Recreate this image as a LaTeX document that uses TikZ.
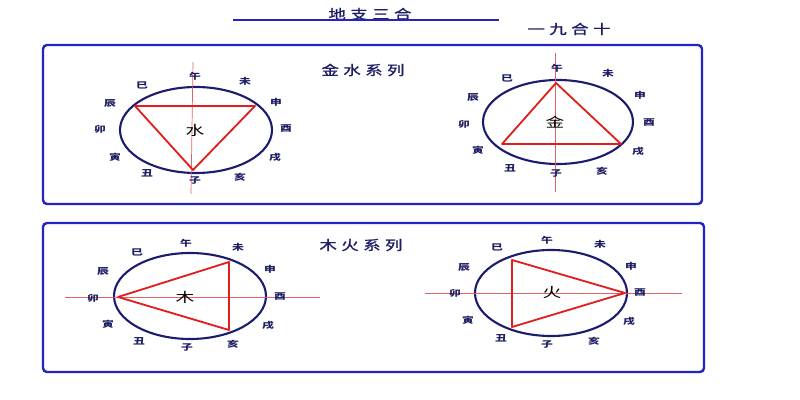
\documentclass[tikz,border=0pt]{standalone}
\usepackage{fontspec}
\newfontfamily\cjk{Noto Sans CJK SC}
\newfontfamily\cjkwide[LetterSpace=26,FakeBold=1.2]{Noto Sans CJK SC}
\definecolor{boxblue}{RGB}{36,36,196}
\definecolor{ringblue}{RGB}{28,28,110}
\definecolor{trired}{RGB}{225,30,30}
\definecolor{axisred}{RGB}{225,100,100}
\definecolor{ink}{RGB}{30,30,100}

\begin{document}
\begin{tikzpicture}[x=0.5mm,y=-0.5mm,
    frame/.style={draw=boxblue,line width=3.4pt,rounded corners=2mm},
    ring/.style={draw=ringblue,line width=3pt},
    tri/.style={draw=trired,line width=2.6pt,line join=round},
    axisline/.style={draw=axisred,line width=1pt},
    br/.style={font=\cjk\bfseries\fontsize{12}{12}\selectfont,text=ink,xscale=1.4,inner sep=0pt},
    elem/.style={font=\cjk\fontsize{19}{19}\selectfont,xscale=1.4,inner sep=0pt},
    head/.style={font=\cjkwide\fontsize{19}{19}\selectfont,text=ink,xscale=1.3,inner sep=0pt}]
    \useasboundingbox (0,0) rectangle (800,400);

    % title
    \node[head] (T) at (370,14) {地支三合};
    \coordinate (TL) at (233,20);
    \coordinate (TR) at (499,20);
    \path[draw=boxblue,line width=2pt] (TL) -- (TR);
    \node[head] (N) at (569,29) {一九合十};

    % frames
    \draw[frame] (43,45) rectangle (702,204);
    \draw[frame] (43,223) rectangle (704,372);
    \node[head] (JS) at (363,70) {金水系列};
    \node[head] (MH) at (361,245) {木火系列};

    % water
    \coordinate (S) at (196,130);
    \draw[ring] (S) ellipse [x radius=76,y radius=43];
    \coordinate (Su) at (193,62);
    \coordinate (Sd) at (191,194);
    \path[axisline] (Su) -- (Sd);
    \coordinate (Sa) at (135,106);
    \coordinate (Sb) at (255,106);
    \coordinate (Sc) at (193,170);
    \draw[tri] (Sa) -- (Sb) -- (Sc) -- cycle;
    \node[elem] (SX) at (195,130) {水};
    \node[br] (S0) at (195,76) {午};
    \node[br] (S1) at (245,81) {未};
    \node[br] (S2) at (276,102) {申};
    \node[br] (S3) at (286,129) {酉};
    \node[br] (S4) at (275,157) {戌};
    \node[br] (S5) at (240,177) {亥};
    \node[br] (S6) at (195,180) {子};
    \node[br] (S7) at (147,173) {丑};
    \node[br] (S8) at (115,157) {寅};
    \node[br] (S9) at (100,129) {卯};
    \node[br] (S10) at (110,103) {辰};
    \node[br] (S11) at (142,85) {巳};

    % metal
    \coordinate (J) at (558,122);
    \draw[ring] (J) ellipse [x radius=75,y radius=42];
    \coordinate (Ju) at (555,53);
    \coordinate (Jd) at (555,192);
    \path[axisline] (Ju) -- (Jd);
    \coordinate (Ja) at (556,83);
    \coordinate (Jb) at (621,144);
    \coordinate (Jc) at (502,144);
    \draw[tri] (Ja) -- (Jb) -- (Jc) -- cycle;
    \node[elem] (JX) at (555,122) {金};
    \node[br] (J0) at (557,68) {午};
    \node[br] (J1) at (608,73) {未};
    \node[br] (J2) at (640,95) {申};
    \node[br] (J3) at (649,123) {酉};
    \node[br] (J4) at (638,151) {戌};
    \node[br] (J5) at (602,171) {亥};
    \node[br] (J6) at (556,173) {子};
    \node[br] (J7) at (510,168) {丑};
    \node[br] (J8) at (478,150) {寅};
    \node[br] (J9) at (464,124) {卯};
    \node[br] (J10) at (473,97) {辰};
    \node[br] (J11) at (507,78) {巳};

    % wood
    \coordinate (M) at (190,296);
    \draw[ring] (M) ellipse [x radius=76,y radius=43];
    \coordinate (Ml) at (65,297);
    \coordinate (Mr) at (320,297);
    \path[axisline] (Ml) -- (Mr);
    \coordinate (Ma) at (118,297);
    \coordinate (Mb) at (229,262);
    \coordinate (Mc) at (229,330);
    \draw[tri] (Ma) -- (Mb) -- (Mc) -- cycle;
    \node[elem] (MX) at (185,297) {木};
    \node[br] (M0) at (186,243) {午};
    \node[br] (M1) at (238,247) {未};
    \node[br] (M2) at (270,269) {申};
    \node[br] (M3) at (280,297) {酉};
    \node[br] (M4) at (268,325) {戌};
    \node[br] (M5) at (233,344) {亥};
    \node[br] (M6) at (187,347) {子};
    \node[br] (M7) at (139,341) {丑};
    \node[br] (M8) at (108,324) {寅};
    \node[br] (M9) at (93,298) {卯};
    \node[br] (M10) at (103,271) {辰};
    \node[br] (M11) at (137,252) {巳};

    % fire
    \coordinate (H) at (551,293);
    \draw[ring] (H) ellipse [x radius=76,y radius=43];
    \coordinate (Hl) at (425,293);
    \coordinate (Hr) at (682,293);
    \path[axisline] (Hl) -- (Hr);
    \coordinate (Ha) at (512,260);
    \coordinate (Hb) at (625,293);
    \coordinate (Hc) at (512,327);
    \draw[tri] (Ha) -- (Hb) -- (Hc) -- cycle;
    \node[elem] (HX) at (552,293) {火};
    \node[br] (H0) at (547,240) {午};
    \node[br] (H1) at (600,244) {未};
    \node[br] (H2) at (631,266) {申};
    \node[br] (H3) at (640,293) {酉};
    \node[br] (H4) at (629,321) {戌};
    \node[br] (H5) at (594,341) {亥};
    \node[br] (H6) at (547,344) {子};
    \node[br] (H7) at (501,338) {丑};
    \node[br] (H8) at (468,320) {寅};
    \node[br] (H9) at (455,293) {卯};
    \node[br] (H10) at (464,267) {辰};
    \node[br] (H11) at (497,247) {巳};
\end{tikzpicture}
\end{document}
